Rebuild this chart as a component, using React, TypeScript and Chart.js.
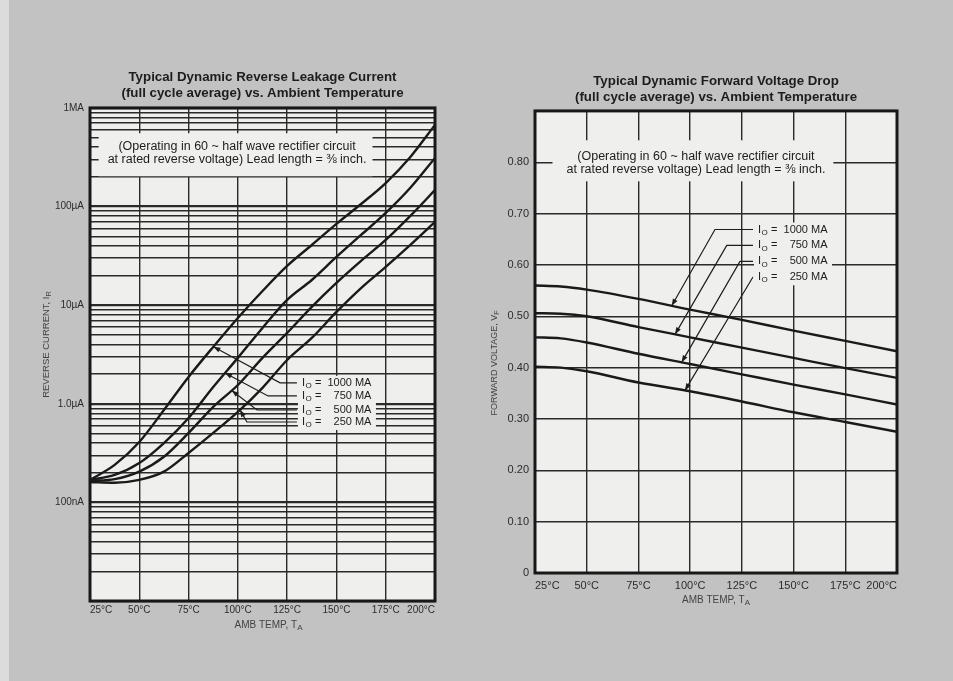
import React, { useEffect, useRef } from 'react'
import Chart from 'chart.js/auto'

// ---- leakage chart (left) ----
const leakTemps = [25, 37.5, 50, 62.5, 75, 87.5, 100, 112.5, 125, 137.5, 150, 162.5, 175, 187.5, 200]
const leak1000 = [1.69e-7, 2.4e-7, 4.1e-7, 8.65e-7, 1.87e-6, 3.77e-6, 7.41e-6, 1.39e-5, 2.5e-5, 4.07e-5, 6.67e-5, 1.06e-4, 1.73e-4, 3.18e-4, 6.73e-4]
const leak750 = [1.69e-7, 1.9e-7, 2.51e-7, 4.0e-7, 7.18e-7, 1.48e-6, 2.92e-6, 5.87e-6, 1.13e-5, 1.8e-5, 3.08e-5, 5.15e-5, 8.61e-5, 1.55e-4, 3.11e-4]
const leak500 = [1.65e-7, 1.72e-7, 2.05e-7, 2.9e-7, 5.06e-7, 9.3e-7, 1.55e-6, 2.92e-6, 5.23e-6, 9.6e-6, 1.68e-5, 2.81e-5, 4.58e-5, 8.03e-5, 1.47e-4]
const leak250 = [1.61e-7, 1.58e-7, 1.69e-7, 2.05e-7, 3.17e-7, 5.06e-7, 8.26e-7, 1.45e-6, 2.78e-6, 4.65e-6, 8.53e-6, 1.49e-5, 2.44e-5, 4.08e-5, 6.98e-5]
const leakTickValues = [1e-7, 1e-6, 1e-5, 1e-4, 1e-3]
const leakTickLabels = ['100nA', '1.0µA', '10µA', '100µA', '1MA']
// label block and arrows (temperature / current where they sit)
const leakLabelTemp = 132.5
const leakLabelLevels = [1.63e-6, 1.2e-6, 8.65e-7, 6.53e-7]
const leakElbowTemps = [121.4, 115.3, 109.7, 104.6]
const leakTipTemps = [87.6, 93.5, 96.9, 101.1]
const leakNoteTemp = 99.6
const leakNoteLevel = 3.47e-4

// ---- forward voltage chart (right) ----
const fwdTemps = [25, 37.5, 50, 75, 100, 125, 150, 175, 200]
const fwd1000 = [0.56, 0.558, 0.552, 0.534, 0.513, 0.493, 0.472, 0.452, 0.432]
const fwd750 = [0.506, 0.505, 0.5, 0.479, 0.459, 0.439, 0.419, 0.399, 0.38]
const fwd500 = [0.459, 0.457, 0.449, 0.427, 0.407, 0.387, 0.367, 0.348, 0.328]
const fwd250 = [0.402, 0.4, 0.393, 0.371, 0.354, 0.334, 0.313, 0.294, 0.275]
const fwdGridValues = [0, 0.1, 0.2, 0.3, 0.4, 0.5, 0.6, 0.7, 0.8, 0.9]
const fwdTickLabels = ['0', '0.10', '0.20', '0.30', '0.40', '0.50', '0.60', '0.70', '0.80', '']
const fwdLabelTemp = 132.8
const fwdLabelLevels = [0.669, 0.638, 0.607, 0.576]
const fwdElbowTemps = [112, 117.7, 124.1, 130.3]
const fwdTipTemps = [91.1, 92.7, 95.9, 97.5]
const fwdNoteTemp = 102.8
const fwdNoteLevel = 0.798

// ---- shared ----
const tempTicks = [25, 50, 75, 100, 125, 150, 175, 200]
const tempTickLabels = ['25°C', '50°C', '75°C', '100°C', '125°C', '150°C', '175°C', '200°C']
const ioValues = ['1000', '750', '500', '250']
const noteLines = ['(Operating in 60 ~ half wave rectifier circuit', 'at rated reverse voltage) Lead length = ⅜ inch.']

const SANS = '"Liberation Sans", Arial, Helvetica, sans-serif'
const PAPER = '#efefed'
const INK = '#1d1d1d'

type Sheet = {
  log: boolean
  temps: number[]
  series: number[][]
  noteT: number
  noteV: number
  notePad: number[]
  labT: number
  labLevels: number[]
  elbows: number[]
  tips: number[]
  yTitle: string[]
  yTitleDx: number
  yTitleDy: number
  yTitleSize: number
  xTitle: string[]
  xTitleDx: number
  xTitleDy: number
}

function valueAt(temps: number[], vals: number[], t: number, log: boolean) {
  for (let i = 0; i < temps.length - 1; i++) {
    if (t <= temps[i + 1]) {
      const f = (t - temps[i]) / (temps[i + 1] - temps[i])
      if (log) {
        const a = Math.log10(vals[i])
        const b = Math.log10(vals[i + 1])
        return Math.pow(10, a + f * (b - a))
      }
      return vals[i] + f * (vals[i + 1] - vals[i])
    }
  }
  return vals[vals.length - 1]
}

function drawIo(ctx: CanvasRenderingContext2D, x: number, y: number, num: string) {
  ctx.textBaseline = 'middle'
  ctx.textAlign = 'left'
  ctx.font = `11px ${SANS}`
  ctx.fillText('I', x, y)
  ctx.font = `8px ${SANS}`
  ctx.fillText('O', x + 3.5, y + 3)
  ctx.font = `11px ${SANS}`
  ctx.fillText('=', x + 13, y)
  ctx.textAlign = 'right'
  ctx.fillText(num, x + 50, y)
  ctx.textAlign = 'left'
  ctx.fillText('MA', x + 53, y)
}

function drawSub(ctx: CanvasRenderingContext2D, main: string, sub: string, size: number) {
  // draws centred on 0,0 of the current transform
  ctx.font = `${size}px ${SANS}`
  const wm = ctx.measureText(main).width
  ctx.font = `${size - 2}px ${SANS}`
  const ws = ctx.measureText(sub).width
  const x0 = -(wm + ws) / 2
  ctx.textAlign = 'left'
  ctx.textBaseline = 'middle'
  ctx.font = `${size}px ${SANS}`
  ctx.fillText(main, x0, 0)
  ctx.font = `${size - 2}px ${SANS}`
  ctx.fillText(sub, x0 + wm, 2.5)
}

const sheetPlugin = (s: Sheet) => ({
  id: 'sheet',
  beforeDraw(chart: any) {
    const { ctx, chartArea: a } = chart
    ctx.save()
    ctx.fillStyle = PAPER
    ctx.fillRect(a.left, a.top, a.right - a.left, a.bottom - a.top)
    ctx.restore()
  },
  beforeDatasetsDraw(chart: any) {
    const { ctx } = chart
    const { x, y } = chart.scales
    ctx.save()
    // note box
    const nx = x.getPixelForValue(s.noteT)
    const ny = y.getPixelForValue(s.noteV)
    ctx.font = `12.5px ${SANS}`
    const w = Math.max(...noteLines.map((l) => ctx.measureText(l).width))
    const lh = 13
    const h = lh * noteLines.length
    ctx.fillStyle = PAPER
    ctx.fillRect(nx - w / 2 - s.notePad[0], ny - h / 2 - s.notePad[2], w + s.notePad[0] + s.notePad[1], h + s.notePad[2] + s.notePad[3])
    ctx.fillStyle = INK
    ctx.textAlign = 'center'
    ctx.textBaseline = 'middle'
    noteLines.forEach((l, i) => ctx.fillText(l, nx, ny - h / 2 + lh * (i + 0.5)))
    // label block
    const lx = x.getPixelForValue(s.labT)
    const ys = s.labLevels.map((v) => y.getPixelForValue(v))
    ctx.fillStyle = PAPER
    ctx.fillRect(lx - 4, ys[0] - 7, 78, ys[ys.length - 1] - ys[0] + 15)
    ctx.fillStyle = INK
    ys.forEach((yy, i) => drawIo(ctx, lx, yy, ioValues[i]))
    ctx.restore()
  },
  afterDatasetsDraw(chart: any) {
    const { ctx, chartArea: a } = chart
    const { x, y } = chart.scales
    ctx.save()
    // leaders with arrow heads
    const lx = x.getPixelForValue(s.labT) - 5
    ctx.strokeStyle = INK
    ctx.fillStyle = INK
    ctx.lineWidth = 1.2
    s.labLevels.forEach((lv, i) => {
      const ly = y.getPixelForValue(lv)
      const ex = x.getPixelForValue(s.elbows[i])
      const tx = x.getPixelForValue(s.tips[i])
      const ty = y.getPixelForValue(valueAt(s.temps, s.series[i], s.tips[i], s.log))
      ctx.beginPath()
      ctx.moveTo(lx, ly)
      ctx.lineTo(ex, ly)
      ctx.lineTo(tx, ty)
      ctx.stroke()
      const ang = Math.atan2(ty - ly, tx - ex)
      const len = 7
      const hw = 2.6
      const bx = tx - Math.cos(ang) * len
      const by = ty - Math.sin(ang) * len
      ctx.beginPath()
      ctx.moveTo(tx, ty)
      ctx.lineTo(bx + Math.sin(ang) * hw, by - Math.cos(ang) * hw)
      ctx.lineTo(bx - Math.sin(ang) * hw, by + Math.cos(ang) * hw)
      ctx.closePath()
      ctx.fill()
    })
    // frame
    ctx.lineWidth = 3
    ctx.strokeStyle = '#181818'
    ctx.strokeRect(a.left, a.top, a.right - a.left, a.bottom - a.top)
    // axis titles
    ctx.fillStyle = '#444'
    ctx.save()
    ctx.translate(a.left + s.yTitleDx, (a.top + a.bottom) / 2 + s.yTitleDy)
    ctx.rotate(-Math.PI / 2)
    drawSub(ctx, s.yTitle[0], s.yTitle[1], s.yTitleSize)
    ctx.restore()
    ctx.save()
    ctx.translate((a.left + a.right) / 2 + s.xTitleDx, a.bottom + s.xTitleDy)
    drawSub(ctx, s.xTitle[0], s.xTitle[1], 10)
    ctx.restore()
    ctx.restore()
  },
})

const lineSet = (temps: number[], vals: number[], name: string) => ({
  label: name,
  data: temps.map((t, i) => ({ x: t, y: vals[i] })),
  borderColor: '#1a1a1a',
  borderWidth: 2.4,
  pointRadius: 0,
  fill: false,
  cubicInterpolationMode: 'monotone' as const,
})

const xScale = (fontSize: number, pad: number, height: number) => ({
  type: 'linear' as const,
  min: 25,
  max: 200,
  afterBuildTicks: (sc: any) => {
    sc.ticks = tempTicks.map((v) => ({ value: v }))
  },
  afterFit: (sc: any) => {
    sc.height = height
    sc.paddingLeft = 0
    sc.paddingRight = 0
  },
  ticks: {
    autoSkip: false,
    maxRotation: 0,
    align: 'inner' as const,
    padding: pad,
    color: '#2c2c2c',
    font: { family: SANS, size: fontSize },
    callback: (v: any) => tempTickLabels[tempTicks.indexOf(Number(v))] ?? '',
  },
  grid: { color: '#2a2a2a', lineWidth: 1.4, drawTicks: false },
  border: { display: false },
})

const titleOpts = (text: string[], bottom: number) => ({
  display: true,
  fullSize: false,
  text,
  color: INK,
  font: { family: SANS, size: 13.3, weight: 'bold', lineHeight: 1.2 },
  padding: { top: 0, bottom },
})

export default function App() {
  const leftRef = useRef<HTMLCanvasElement>(null)
  const rightRef = useRef<HTMLCanvasElement>(null)

  useEffect(() => {
    if (!leftRef.current || !rightRef.current) return
    // log grid: 1..9 in every decade
    const leakGrid: number[] = []
    for (let e = -8; e <= -4; e++) {
      for (let m = 1; m <= 9; m++) leakGrid.push(Number((m * Math.pow(10, e)).toPrecision(3)))
    }
    leakGrid.push(1e-3)
    const isDecade = (v: number) => Math.abs(Math.log10(v) - Math.round(Math.log10(v))) < 1e-6

    const left = new Chart(leftRef.current, {
      type: 'line',
      data: {
        datasets: [
          lineSet(leakTemps, leak1000, '1000 MA'),
          lineSet(leakTemps, leak750, '750 MA'),
          lineSet(leakTemps, leak500, '500 MA'),
          lineSet(leakTemps, leak250, '250 MA'),
        ],
      },
      options: {
        animation: false,
        responsive: true,
        maintainAspectRatio: false,
        events: [],
        layout: { padding: { left: 38, right: 41, top: 69, bottom: 45 } },
        plugins: {
          legend: { display: false },
          tooltip: { enabled: false },
          title: titleOpts(['Typical Dynamic Reverse Leakage Current', '(full cycle average) vs. Ambient Temperature'], 7),
        },
        scales: {
          x: xScale(10, 3, 35),
          y: {
            type: 'logarithmic',
            min: 1e-8,
            max: 1e-3,
            afterBuildTicks: (sc: any) => {
              sc.ticks = leakGrid.map((v) => ({ value: v }))
            },
            afterFit: (sc: any) => {
              sc.width = 52
              sc.paddingTop = 0
              sc.paddingBottom = 0
            },
            ticks: {
              autoSkip: false,
              padding: 6,
              color: '#2c2c2c',
              font: { family: SANS, size: 10 },
              callback: (v: any) => {
                const i = leakTickValues.findIndex((t) => Math.abs(Math.log10(t) - Math.log10(Number(v))) < 1e-6)
                return i >= 0 ? leakTickLabels[i] : ''
              },
            },
            grid: {
              color: '#2a2a2a',
              lineWidth: (c: any) => (c.tick && isDecade(c.tick.value) ? 2.2 : 1.4),
              drawTicks: false,
            },
            border: { display: false },
          },
        },
      },
      plugins: [
        sheetPlugin({
          log: true,
          temps: leakTemps,
          series: [leak1000, leak750, leak500, leak250],
          noteT: leakNoteTemp,
          noteV: leakNoteLevel,
          notePad: [9, 6, 7, 10],
          labT: leakLabelTemp,
          labLevels: leakLabelLevels,
          elbows: leakElbowTemps,
          tips: leakTipTemps,
          yTitle: ['REVERSE CURRENT, I', 'R'],
          yTitleDx: -44,
          yTitleDy: -10,
          yTitleSize: 9.5,
          xTitle: ['AMB TEMP, T', 'A'],
          xTitleDx: 6,
          xTitleDy: 24,
        }),
      ],
    } as any)

    const right = new Chart(rightRef.current, {
      type: 'line',
      data: {
        datasets: [
          lineSet(fwdTemps, fwd1000, '1000 MA'),
          lineSet(fwdTemps, fwd750, '750 MA'),
          lineSet(fwdTemps, fwd500, '500 MA'),
          lineSet(fwdTemps, fwd250, '250 MA'),
        ],
      },
      options: {
        animation: false,
        responsive: true,
        maintainAspectRatio: false,
        events: [],
        layout: { padding: { left: 12, right: 56, top: 73, bottom: 72 } },
        plugins: {
          legend: { display: false },
          tooltip: { enabled: false },
          title: titleOpts(['Typical Dynamic Forward Voltage Drop', '(full cycle average) vs. Ambient Temperature'], 6),
        },
        scales: {
          x: xScale(11, 6, 36),
          y: {
            type: 'linear',
            min: 0,
            max: 0.9,
            afterBuildTicks: (sc: any) => {
              sc.ticks = fwdGridValues.map((v) => ({ value: v }))
            },
            afterFit: (sc: any) => {
              sc.width = 47
              sc.paddingTop = 0
              sc.paddingBottom = 0
            },
            ticks: {
              autoSkip: false,
              padding: 6,
              color: '#2c2c2c',
              font: { family: SANS, size: 11 },
              callback: (_v: any, i: number) => fwdTickLabels[i] ?? '',
            },
            grid: { color: '#2a2a2a', lineWidth: 1.4, drawTicks: false },
            border: { display: false },
          },
        },
      },
      plugins: [
        sheetPlugin({
          log: false,
          temps: fwdTemps,
          series: [fwd1000, fwd750, fwd500, fwd250],
          noteT: fwdNoteTemp,
          noteV: fwdNoteLevel,
          notePad: [14, 8, 10, 5],
          labT: fwdLabelTemp,
          labLevels: fwdLabelLevels,
          elbows: fwdElbowTemps,
          tips: fwdTipTemps,
          yTitle: ['FORWARD VOLTAGE, V', 'F'],
          yTitleDx: -40,
          yTitleDy: 21,
          yTitleSize: 9,
          xTitle: ['AMB TEMP, T', 'A'],
          xTitleDx: 0,
          xTitleDy: 27,
        }),
      ],
    } as any)

    return () => {
      left.destroy()
      right.destroy()
    }
  }, [])

  return (
    <div style={{ position: 'fixed', left: 0, top: 0, width: 953, height: 681, background: '#c2c2c2', overflow: 'hidden' }}>
      <div style={{ position: 'absolute', left: 0, top: 0, width: 9, height: 681, background: '#dcdcdc' }} />
      <div style={{ position: 'absolute', left: 0, top: 0, width: 476, height: 681 }}>
        <canvas ref={leftRef} />
      </div>
      <div style={{ position: 'absolute', left: 476, top: 0, width: 477, height: 681 }}>
        <canvas ref={rightRef} />
      </div>
    </div>
  )
}
